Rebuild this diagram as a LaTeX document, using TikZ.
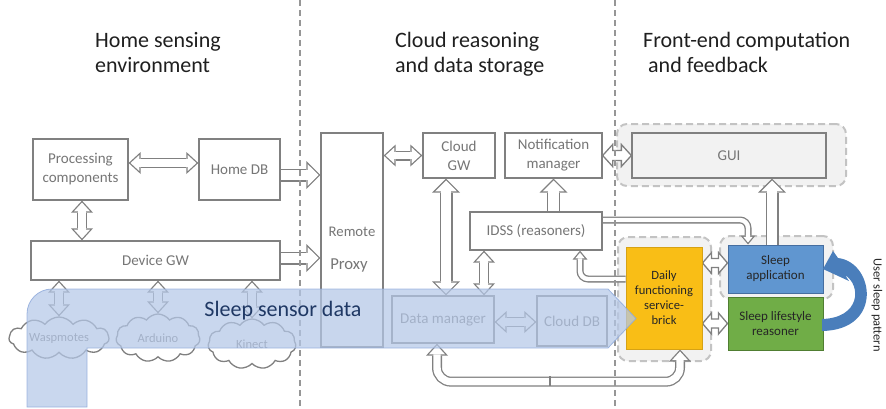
\documentclass[tikz,border=0pt]{standalone}
\usepackage{fontspec}
\setmainfont{Carlito}
\usetikzlibrary{arrows.meta,shapes.symbols,calc}

\definecolor{linegray}{RGB}{128,128,128}
\definecolor{txtgray}{RGB}{118,118,118}
\definecolor{dashgray}{RGB}{150,150,150}
\definecolor{grpfill}{RGB}{242,242,242}
\definecolor{grpdraw}{RGB}{195,195,195}
\definecolor{dailyfill}{RGB}{249,190,22}
\definecolor{dailydraw}{RGB}{214,162,20}
\definecolor{appfill}{RGB}{96,150,208}
\definecolor{appdraw}{RGB}{70,110,160}
\definecolor{lsfill}{RGB}{112,173,71}
\definecolor{lsdraw}{RGB}{80,126,50}
\definecolor{bandfill}{RGB}{180,199,231}
\definecolor{banddraw}{RGB}{140,168,218}
\definecolor{navy}{RGB}{31,56,100}
\definecolor{curl}{RGB}{74,126,187}

\pgfdeclarelayer{groups}
\pgfdeclarelayer{links}
\pgfdeclarelayer{front}
\pgfsetlayers{groups,links,main,front}

% short outlined double arrow between two named coordinates:
% #1 start, #2 end, #3 shaft half width, #4 head half width, #5 head length
\newcommand\fatdouble[5]{%
  \coordinate (fdX) at ($(#1)!#5!(#2)$);
  \coordinate (fdY) at ($(#2)!#5!(#1)$);
  \draw[outlined] (#1) -- ($(fdX)!#4!90:(#2)$) -- ($(fdX)!#3!90:(#2)$)
    -- ($(fdY)!#3!-90:(#1)$) -- ($(fdY)!#4!-90:(#1)$) -- (#2)
    -- ($(fdY)!#4!90:(#1)$) -- ($(fdY)!#3!90:(#1)$)
    -- ($(fdX)!#3!-90:(#2)$) -- ($(fdX)!#4!-90:(#2)$) -- cycle;}

\tikzset{
  % outer and inner heads of the hollow (outlined) arrows
  oA/.tip={Triangle[length=12pt,width=22pt,line width=0pt]},
  iA/.tip={Triangle[length=8.78pt,width=16.1pt,line width=0pt]},
  oB/.tip={Triangle[length=14pt,width=28pt,line width=0pt]},
  iB/.tip={Triangle[length=10.86pt,width=21.7pt,line width=0pt]},
  oC/.tip={Triangle[length=9pt,width=15pt,line width=0pt]},
  iC/.tip={Triangle[length=5.67pt,width=9.45pt,line width=0pt]},
  hd/.style={draw=linegray, line width=10pt, oA-oA,
    postaction={draw=white, line width=7.4pt, shorten <=1.92pt, shorten >=1.92pt, iA-iA}},
  hdbig/.style={draw=linegray, line width=13pt, oB-oB,
    postaction={draw=white, line width=10.4pt, shorten <=1.84pt, shorten >=1.84pt, iB-iB}},
  hsbig/.style={draw=linegray, line width=13pt, -oB,
    postaction={draw=white, line width=10.4pt, shorten >=1.84pt, -iB}},
  hslim/.style={draw=linegray, line width=7pt, -oC,
    postaction={draw=white, line width=4.4pt, shorten >=2.03pt, -iC}},
  outlined/.style={draw=linegray, line width=1.3pt, fill=white, line join=miter},
  title/.style={anchor=base west, inner sep=0pt, text=black!88,
    font=\fontsize{22}{25}\selectfont},
  box/.style={draw=linegray, line width=1.3pt, fill=white, text=txtgray,
    font=\fontsize{15}{19}\selectfont, inner sep=0pt, align=center},
  colbox/.style={line width=1pt, inner sep=0pt, align=center, text=black!85,
    font=\fontsize{13}{15}\selectfont},
  group/.style={draw=grpdraw, dash pattern=on 7pt off 4pt, line width=2pt,
    fill=grpfill, rounded corners=10pt, inner sep=0pt},
  sensor/.style={cloud, cloud puffs=11, cloud puff arc=110, cloud ignores aspect,
    draw=linegray, line width=1.3pt, fill=white, text=txtgray, inner sep=0pt,
    font=\fontsize{12.5}{14}\selectfont},
  dashline/.style={draw=dashgray, line width=1.5pt, dash pattern=on 6pt off 4pt},
}

\begin{document}
\begin{tikzpicture}[x=1pt,y=-1pt]
\useasboundingbox (0,0) rectangle (886,408);

% section headings
\node[title] (t1a) at (95,47) {Home sensing};
\node[title] (t1b) at (95,72) {environment};
\node[title] (t2a) at (395,47) {Cloud reasoning};
\node[title] (t2b) at (395,72) {and data storage};
\node[title] (t3a) at (643,47) {Front-end computation};
\node[title] (t3b) at (648,72) {and feedback};

% grey dashed groupings on the front-end side
\begin{pgfonlayer}{groups}
\node[group, minimum width=229pt, minimum height=62pt] (guigrp) at (731.5,155) {};
\node[group, minimum width=93pt, minimum height=124pt] (dailygrp) at (664.5,299) {};
\node[group, minimum width=113pt, minimum height=63pt] (appgrp) at (776.5,267.5) {};
\end{pgfonlayer}

% tier separators
\draw[dashline] (300,0) -- (300,408);
\draw[dashline] (615,0) -- (615,408);

% home side
\node[box, minimum width=95pt, minimum height=61pt] (proc) at (80.5,169.5) {Processing\\components};
\node[box, minimum width=81pt, minimum height=61pt] (homedb) at (239.5,169.5) {Home DB};
\node[box, minimum width=249pt, minimum height=39pt] (devgw) at (155.5,260.5) {Device GW};
\node[sensor, minimum width=100pt, minimum height=42pt] (wasp) at (59,338) {Waspmotes};
\node[sensor, minimum width=84pt, minimum height=48pt] (ardu) at (158,338) {Arduino};
\node[sensor, minimum width=88pt, minimum height=50pt] (kin) at (252,344) {Kinect};

% cloud side
\node[box, minimum width=62pt, minimum height=214pt] (rproxy) at (352,240) {};
\node[text=txtgray, inner sep=0pt, font=\fontsize{14.7}{17}\selectfont] (rpa) at (352,232) {Remote};
\node[text=txtgray, inner sep=0pt, font=\fontsize{16.7}{19}\selectfont] (rpb) at (349,265) {Proxy};
\node[box, minimum width=72pt, minimum height=45pt] (cloudgw) at (459,155.5) {Cloud\\GW};
\node[box, minimum width=97pt, minimum height=45pt] (notif) at (553.5,155.5) {Notification\\manager};
\node[box, minimum width=132pt, minimum height=38pt] (idss) at (536,231) {IDSS (reasoners)};
\node[box, minimum width=102pt, minimum height=47pt] (datamgr) at (443,319.5) {Data manager};
\node[box, minimum width=70pt, minimum height=50pt] (clouddb) at (572,321) {Cloud DB};

% front-end side
\node[box, fill=grpfill, minimum width=194pt, minimum height=45pt] (gui) at (729,155.5) {GUI};
\node[colbox, draw=dailydraw, fill=dailyfill, minimum width=76pt, minimum height=102pt,
  font=\fontsize{12.6}{15}\selectfont] (daily) at (664,298) {Daily\\functioning\\service-\\brick};
\node[colbox, draw=appdraw, fill=appfill, minimum width=95pt, minimum height=48pt] (sleepapp) at (775.5,269) {Sleep\\application};
\node[colbox, draw=lsdraw, fill=lsfill, minimum width=95pt, minimum height=53pt] (sleepls) at (775.5,323.5) {Sleep lifestyle\\reasoner};

% hollow connectors
\begin{pgfonlayer}{links}
\draw[hd] ([yshift=6.5pt]proc.east) -- ([yshift=6.5pt]proc.east -| homedb.west);
\draw[hd] ([xshift=1.5pt]proc.south) -- ([xshift=1.5pt]proc.south |- devgw.north);
\draw[hd] (wasp.north) -- (wasp.north |- devgw.south);
\draw[hd] (ardu.north) -- (ardu.north |- devgw.south);
\draw[hd] (kin.north) -- (kin.north |- devgw.south);
\draw[hsbig] ([yshift=-5.5pt]homedb.east) -- ([yshift=-5.5pt]homedb.east -| rproxy.west);
\draw[hsbig] ([yshift=2.5pt]devgw.east) -- ([yshift=2.5pt]devgw.east -| rproxy.west);
\draw[hd] (cloudgw.west -| rproxy.east) -- (cloudgw.west);
\draw[hdbig] ([xshift=-13pt]cloudgw.south) -- ([xshift=-13pt]cloudgw.south |- datamgr.north);
\draw[hd] ([xshift=-52pt]idss.south) -- ([xshift=-52pt]idss.south |- datamgr.north);
\draw[hsbig] (idss.north -| notif.south) -- (notif.south);
\draw[hd] ([yshift=-2.5pt]datamgr.east) -- ([yshift=-2.5pt]datamgr.east -| clouddb.west);
\draw[hslim, rounded corners=8pt] ([yshift=11pt]idss.east) -| ([xshift=-27.5pt]sleepapp.north);
\draw[hslim, rounded corners=8pt] ([yshift=19pt]daily.west) -| ([xshift=44pt]idss.south);
\draw[hd, rounded corners=14pt] ([xshift=-6pt]datamgr.south) -- ++(0,38) -| ([xshift=16pt]daily.south);
\coordinate (tick) at (550,381);
\draw[linegray, line width=1.3pt] ([yshift=4.6pt]tick) -- ([yshift=-4.6pt]tick);
\draw[hsbig] ([xshift=-3.5pt]sleepapp.north) -- ([xshift=-3.5pt]sleepapp.north |- gui.south);
% short double arrows across narrow gaps
\coordinate (ng1) at (notif.east);
\coordinate (ng2) at (gui.west);
\fatdouble{ng1}{ng2}{5pt}{11pt}{10pt}
\coordinate (da1) at ([yshift=6pt]sleepapp.west -| daily.east);
\coordinate (da2) at ([yshift=6pt]sleepapp.west);
\fatdouble{da1}{da2}{4.5pt}{10.5pt}{9pt}
\coordinate (dl1) at (sleepls.west -| daily.east);
\coordinate (dl2) at (sleepls.west);
\fatdouble{dl1}{dl2}{4.5pt}{10.5pt}{9pt}
\end{pgfonlayer}

% translucent sensor-data arrow and feedback loop
\begin{pgfonlayer}{front}
\filldraw[fill=bandfill, fill opacity=0.72, draw=banddraw, draw opacity=0.8, line width=0.8pt]
  (27,407) -- (27,314) arc[start angle=180, end angle=90, radius=25pt]
  -- (608,289) -- (636,318.5) -- (608,348) -- (87,348) -- (87,407) -- cycle;
\node[text=navy, inner sep=0pt, font=\fontsize{22}{25}\selectfont] (ssd) at (283,311) {Sleep sensor data};
\fill[curl] (822,319) .. controls (860,318) and (862,286) .. (845,275) -- (849,281)
  -- (823,269) -- (833,251) -- (838,258) .. controls (874,262) and (884,330) .. (822,331) -- cycle;
\node[rotate=-90, inner sep=0pt, text=black!85, font=\fontsize{12.5}{14}\selectfont] (usp) at (877,305) {User sleep pattern};
\end{pgfonlayer}
\end{tikzpicture}
\end{document}
